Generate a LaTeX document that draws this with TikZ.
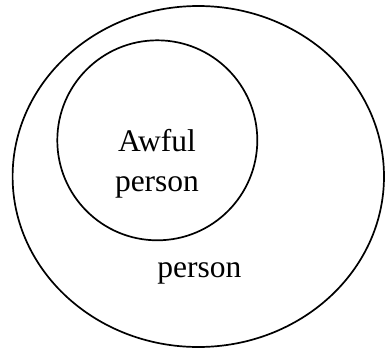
\documentclass[tikz,border=0pt]{standalone}
\usepackage{fontspec}
\setmainfont{Liberation Serif}
\usepackage{tikz}
\usetikzlibrary{shapes.geometric, positioning}

\begin{document}
\begin{tikzpicture}[
  x=1pt, y=-1pt,
  setline/.style={draw, line width=1.7pt, inner sep=0pt},
  label/.style={align=center, anchor=base, font=\fontsize{31.5}{40}\selectfont}
]
\useasboundingbox (0,0) rectangle (386,349);
\node[setline, ellipse, minimum width=371.4pt, minimum height=341pt] (person) at (198.3,176.5) {};
\node[setline, circle, minimum size=200pt] (awful) at (157.3,140.3) {};
\node[label] (awfultext) at (157,191.7) {Awful\\person};
\node[label] (persontext) at (199.3,277) {person};
\end{tikzpicture}
\end{document}
